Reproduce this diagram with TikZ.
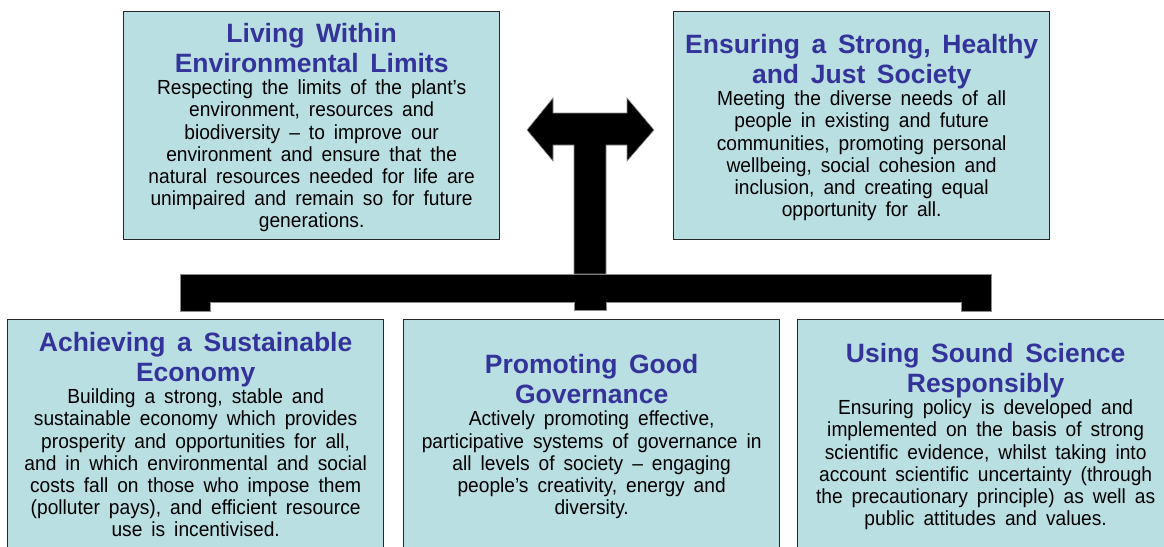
\documentclass[tikz,border=0pt]{standalone}
\usepackage{fontspec}
\setmainfont{Liberation Sans}
\newfontfamily\bodyfam[FakeStretch=0.94]{Liberation Sans}
\definecolor{boxfill}{HTML}{B9DFE3}
\definecolor{titleblue}{HTML}{333399}
\newcommand{\ttl}[1]{{\color{titleblue}\bfseries\fontsize{26.5}{30}\selectfont\spaceskip=0.44em\relax #1\par}}
\newcommand{\bdy}[1]{{\bodyfam\fontsize{20.4}{22.2}\selectfont\spaceskip=9pt\relax #1\par}}
\begin{document}
\begin{tikzpicture}[x=1pt,y=-1pt,
  box/.style={draw=black!85, fill=boxfill, line width=1.3pt, minimum width=376pt, minimum height=#1, inner sep=0pt, anchor=north west},
  box/.default=228pt,
  txt/.style={text width=372pt, align=center, inner sep=0pt},
  bar/.style={fill=black, draw=black!45, line width=0.6pt}]
\clip (0,0) rectangle (1164,546);
\fill[white] (0,0) rectangle (1164,546);

% boxes
\node[box] (env) at (123,11) {};
\node[box] (soc) at (673,11) {};
\node[box=236pt] (eco) at (7,319) {};
\node[box=236pt] (gov) at (403,319) {};
\node[box=236pt] (sci) at (797,319) {};

% texts
\node[txt, yshift=-2pt] (envt) at (env.center) {\ttl{Living Within\\Environmental Limits}\bdy{Respecting the limits of the plant’s\\environment, resources and\\biodiversity – to improve our\\environment and ensure that the\\natural resources needed for life are\\unimpaired and remain so for future\\generations.}};
\node[txt, yshift=-2pt] (soct) at (soc.center) {\ttl{Ensuring a Strong, Healthy\\and Just Society}\bdy{Meeting the diverse needs of all\\people in existing and future\\communities, promoting personal\\wellbeing, social cohesion and\\inclusion, and creating equal\\opportunity for all.}};
\node[txt, yshift=3pt] (ecot) at (eco.center) {\ttl{Achieving a Sustainable\\Economy}\bdy{Building a strong, stable and\\sustainable economy which provides\\prosperity and opportunities for all,\\and in which environmental and social\\costs fall on those who impose them\\(polluter pays), and efficient resource\\use is incentivised.}};
\node[txt, yshift=1pt] (govt) at (gov.center) {\ttl{Promoting Good\\Governance}\bdy{Actively promoting effective,\\participative systems of governance in\\all levels of society – engaging\\people’s creativity, energy and\\diversity.}};
\node[txt, yshift=1pt] (scit) at (sci.center) {\ttl{Using Sound Science\\Responsibly}\bdy{Ensuring policy is developed and\\implemented on the basis of strong\\scientific evidence, whilst taking into\\account scientific uncertainty (through\\the precautionary principle) as well as\\public attitudes and values.}};

% connector: bracket with double arrow
\draw[bar] (180,274) -- (991,274) -- (991,311) -- (961,311) -- (961,302)
  -- (606,302) -- (606,310) -- (574,310) -- (574,302)
  -- (210,302) -- (210,311) -- (180,311) -- cycle;
\draw[bar] (574,274) -- (574,145) -- (553,145) -- (553,161) -- (527,130)
  -- (553,98) -- (553,113) -- (627,113) -- (627,98) -- (654,130)
  -- (627,161) -- (627,145) -- (606,145) -- (606,274) -- cycle;
\end{tikzpicture}
\end{document}
